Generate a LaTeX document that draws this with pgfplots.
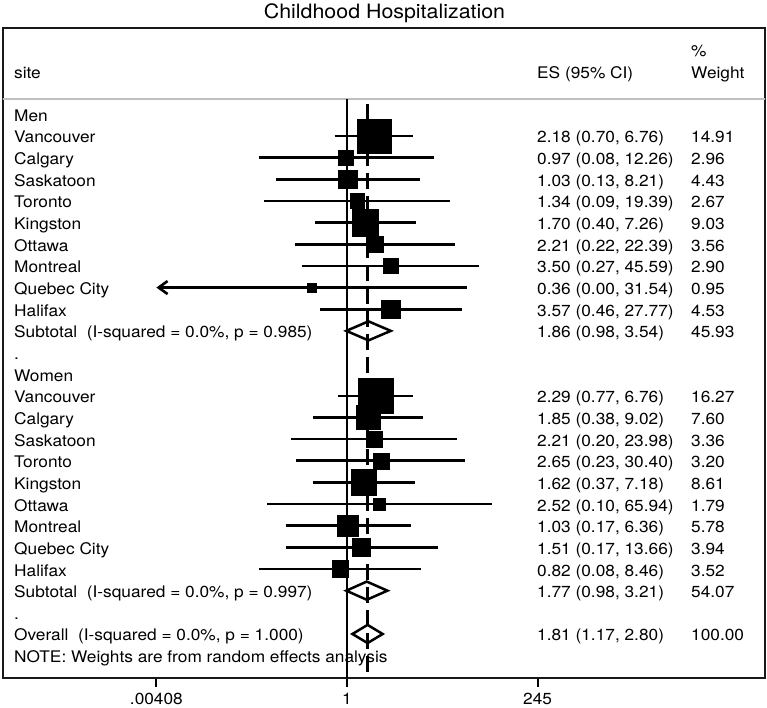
\documentclass[border=0pt]{standalone}
\usepackage{fontspec}
\setmainfont{TeX Gyre Heros}[FakeStretch=1.08]
\usepackage{pgfplots}
\usepackage{pgfplotstable}
\pgfplotsset{compat=1.18}
\usetikzlibrary{arrows.meta}
\newcommand\fs{\fontsize{16}{19}\selectfont}
\newcommand\lab[3]{\node[anchor=base west,inner sep=0pt,font=\fs] at (#2,{121.35+21.65*(#1)}) {#3};}

% row es lo hi weight
\pgfplotstableread{
row es lo hi w
1 2.18 0.70 6.76 14.91
2 0.97 0.08 12.26 2.96
3 1.03 0.13 8.21 4.43
4 1.34 0.09 19.39 2.67
5 1.70 0.40 7.26 9.03
6 2.21 0.22 22.39 3.56
7 3.50 0.27 45.59 2.90
8 0.36 0.00408 31.54 0.95
9 3.57 0.46 27.77 4.53
13 2.29 0.77 6.76 16.27
14 1.85 0.38 9.02 7.60
15 2.21 0.20 23.98 3.36
16 2.65 0.23 30.40 3.20
17 1.62 0.37 7.18 8.61
18 2.52 0.10 65.94 1.79
19 1.03 0.17 6.36 5.78
20 1.51 0.17 13.66 3.94
21 0.82 0.08 8.46 3.52
}\studies

\begin{document}
\begin{tikzpicture}[x=1pt,y=-1pt]
\useasboundingbox (0,0) rectangle (767,708);
\begin{axis}[
  at={(3pt,-28.3pt)}, anchor=north west,
  width=762pt, height=649.4pt, scale only axis,
  xmode=log, xmin=4.879e-5, xmax=1.7335e5,
  ymin=-3.975, ymax=26.02, y dir=reverse,
  axis line style={line width=1.8pt, black!90},
  ytick=\empty, xtick={0.00408,1,245}, xticklabels={.00408,1,245},
  xtick pos=left, tick align=outside, major tick length=9pt,
  major tick style={line width=1.8pt, black},
  xticklabel style={font=\fs, inner sep=0pt, yshift=-6pt},
  /pgf/number format/assume math mode=true,
  unbounded coords=jump,
]
% grey separator
\addplot[black!25, line width=1.8pt] coordinates {(1e-6,-0.71) (1e7,-0.71)};
% null line
\addplot[black, line width=2.4pt] coordinates {(1,-0.71) (1,27)};
% overall effect line
\addplot[black, line width=2.4pt, dash pattern=on 16pt off 7pt] coordinates {(1.81,-0.48) (1.81,27)};
% confidence intervals
\addplot[black, line width=2.6pt] coordinates {
(0.70,1) (6.76,1) (nan,nan)
(0.08,2) (12.26,2) (nan,nan)
(0.13,3) (8.21,3) (nan,nan)
(0.09,4) (19.39,4) (nan,nan)
(0.40,5) (7.26,5) (nan,nan)
(0.22,6) (22.39,6) (nan,nan)
(0.27,7) (45.59,7) (nan,nan)
(0.46,9) (27.77,9) (nan,nan)
(0.77,13) (6.76,13) (nan,nan)
(0.38,14) (9.02,14) (nan,nan)
(0.20,15) (23.98,15) (nan,nan)
(0.23,16) (30.40,16) (nan,nan)
(0.37,17) (7.18,17) (nan,nan)
(0.10,18) (65.94,18) (nan,nan)
(0.17,19) (6.36,19) (nan,nan)
(0.17,20) (13.66,20) (nan,nan)
(0.08,21) (8.46,21)
};
% Quebec City (men): lower limit off scale
\addplot[black, line width=2.6pt, {Straight Barb[length=9pt,width=13pt]}-] coordinates {(0.00408,8) (31.54,8)};
% study boxes, area proportional to weight
\addplot[scatter, only marks, mark=square*,
  scatter/use mapped color={draw=black,fill=black},
  visualization depends on={4.25*sqrt(\thisrow{w})+0.4 \as \msz},
  scatter/@pre marker code/.append style={/tikz/mark size=\msz, /tikz/line width=0pt}]
  table[x=es,y=row]{\studies};
% pooled diamonds
\addplot[black, line width=2.5pt, line join=miter] coordinates {(0.98,10) (1.86,9.56) (3.54,10) (1.86,10.44)} -- cycle;
\addplot[black, line width=2.5pt, line join=miter] coordinates {(0.98,22) (1.77,21.58) (3.21,22) (1.77,22.42)} -- cycle;
\addplot[black, line width=2.5pt, line join=miter] coordinates {(1.17,24) (1.81,23.58) (2.80,24) (1.81,24.42)} -- cycle;
\end{axis}
% title
\node[anchor=base,inner sep=0pt,font=\fontsize{19.8}{23}\selectfont] at (384.5,18.5) {Childhood Hospitalization};
% header
\lab{-2}{14}{site}
\lab{-2}{537}{ES (95\% CI)}
\lab{-3}{691}{\%}
\lab{-2}{691}{Weight}
% left column
\lab{0}{14}{Men}
\lab{1}{14}{Vancouver}
\lab{2}{14}{Calgary}
\lab{3}{14}{Saskatoon}
\lab{4}{14}{Toronto}
\lab{5}{14}{Kingston}
\lab{6}{14}{Ottawa}
\lab{7}{14}{Montreal}
\lab{8}{14}{Quebec City}
\lab{9}{14}{Halifax}
\lab{10}{14}{Subtotal\ \ (I-squared = 0.0\%, p = 0.985)}
\lab{11}{14}{.}
\lab{12}{14}{Women}
\lab{13}{14}{Vancouver}
\lab{14}{14}{Calgary}
\lab{15}{14}{Saskatoon}
\lab{16}{14}{Toronto}
\lab{17}{14}{Kingston}
\lab{18}{14}{Ottawa}
\lab{19}{14}{Montreal}
\lab{20}{14}{Quebec City}
\lab{21}{14}{Halifax}
\lab{22}{14}{Subtotal\ \ (I-squared = 0.0\%, p = 0.997)}
\lab{23}{14}{.}
\lab{24}{14}{Overall\ \ (I-squared = 0.0\%, p = 1.000)}
\lab{25}{14}{NOTE: Weights are from random effects analysis}
% ES column
\lab{1}{537}{2.18 (0.70, 6.76)}
\lab{2}{537}{0.97 (0.08, 12.26)}
\lab{3}{537}{1.03 (0.13, 8.21)}
\lab{4}{537}{1.34 (0.09, 19.39)}
\lab{5}{537}{1.70 (0.40, 7.26)}
\lab{6}{537}{2.21 (0.22, 22.39)}
\lab{7}{537}{3.50 (0.27, 45.59)}
\lab{8}{537}{0.36 (0.00, 31.54)}
\lab{9}{537}{3.57 (0.46, 27.77)}
\lab{10}{537}{1.86 (0.98, 3.54)}
\lab{13}{537}{2.29 (0.77, 6.76)}
\lab{14}{537}{1.85 (0.38, 9.02)}
\lab{15}{537}{2.21 (0.20, 23.98)}
\lab{16}{537}{2.65 (0.23, 30.40)}
\lab{17}{537}{1.62 (0.37, 7.18)}
\lab{18}{537}{2.52 (0.10, 65.94)}
\lab{19}{537}{1.03 (0.17, 6.36)}
\lab{20}{537}{1.51 (0.17, 13.66)}
\lab{21}{537}{0.82 (0.08, 8.46)}
\lab{22}{537}{1.77 (0.98, 3.21)}
\lab{24}{537}{1.81 (1.17, 2.80)}
% weight column
\lab{1}{691}{14.91}
\lab{2}{691}{2.96}
\lab{3}{691}{4.43}
\lab{4}{691}{2.67}
\lab{5}{691}{9.03}
\lab{6}{691}{3.56}
\lab{7}{691}{2.90}
\lab{8}{691}{0.95}
\lab{9}{691}{4.53}
\lab{10}{691}{45.93}
\lab{13}{691}{16.27}
\lab{14}{691}{7.60}
\lab{15}{691}{3.36}
\lab{16}{691}{3.20}
\lab{17}{691}{8.61}
\lab{18}{691}{1.79}
\lab{19}{691}{5.78}
\lab{20}{691}{3.94}
\lab{21}{691}{3.52}
\lab{22}{691}{54.07}
\lab{24}{691}{100.00}
\end{tikzpicture}
\end{document}
